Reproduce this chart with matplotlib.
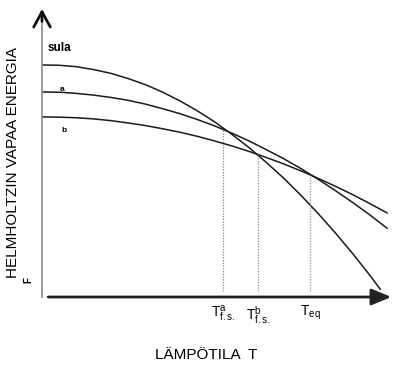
import numpy as np
import matplotlib
matplotlib.use("Agg")
import matplotlib.pyplot as plt

plt.rcParams['font.family'] = ['Liberation Sans', 'DejaVu Sans']
plt.rcParams['mathtext.fontset'] = 'custom'
plt.rcParams['mathtext.rm'] = 'Liberation Sans'
plt.rcParams['mathtext.it'] = 'Liberation Sans'
plt.rcParams['mathtext.bf'] = 'Liberation Sans:bold'

# temperature grid (arbitrary units) and free energy of each phase
T_sula = [0, 5, 10, 15, 20, 25, 30, 35, 40, 45, 50, 55, 60, 65, 70, 75,
          80, 85, 90, 95, 98]
F_sula = [80.0, 79.9, 79.4, 78.4, 77.1, 75.3, 73.2, 70.6, 67.6, 64.2, 60.4,
          56.1, 51.5, 46.4, 41.0, 35.1, 28.8, 22.1, 15.0, 7.5, 2.7]

T_ab = [0, 5, 10, 15, 20, 25, 30, 35, 40, 45, 50, 55, 60, 65, 70, 75, 80,
        85, 90, 95, 100]
F_a = [70.7, 70.6, 70.2, 69.6, 68.8, 67.8, 66.5, 64.9, 63.2, 61.2, 59.0,
       56.5, 53.8, 50.8, 47.7, 44.3, 40.6, 36.7, 32.6, 28.3, 23.7]
F_b = [62.1, 62.0, 61.8, 61.4, 60.8, 60.0, 59.1, 58.0, 56.8, 55.4, 53.8,
       52.1, 50.2, 48.1, 45.9, 43.5, 40.9, 38.2, 35.3, 32.2, 29.0]

# transition temperatures and where the dotted guides end
T_marks = [52.5, 62.6, 77.7]
F_marks = [57.7, 49.1, 42.1]
mark_labels = [r'$\mathrm{T}^{a}_{f.s.}$', r'$\mathrm{T}^{b}_{f.s.}$', r'$\mathrm{T}_{eq}$']

fig = plt.figure(figsize=(3.94, 3.67), dpi=100)
ax = fig.add_axes([42 / 394, 70 / 367, 352 / 394, 297 / 367])
ax.set_xlim(0, 102.0)
ax.set_ylim(0, 102.4)
for s in ax.spines.values():
    s.set_visible(False)
ax.set_yticks([])

line_kw = dict(color='#1a1a1a', lw=1.1)
ax.plot(T_sula, F_sula, **line_kw)
ax.plot(T_ab, F_a, **line_kw)
ax.plot(T_ab, F_b, **line_kw)

for t, f in zip(T_marks, F_marks):
    ax.plot([t, t], [2, f], color='#888888', lw=0.9, ls=(0, (1, 1.2)))

ax.set_xticks(T_marks)
ax.set_xticklabels(mark_labels, fontsize=10)
ax.tick_params(axis='x', length=0, pad=5)

# axes with arrows
ax.plot([0, 0], [0, 97], color='#8a8a8a', lw=1.2, clip_on=False)
ax.annotate('', xy=(0, 100.3), xytext=(0, 94),
            arrowprops=dict(arrowstyle='->,head_length=1.1,head_width=0.6',
                            color='#111111', lw=2.0),
            annotation_clip=False)
ax.annotate('', xy=(102.0, 0), xytext=(1, 0),
            arrowprops=dict(arrowstyle='-|>,head_length=1.2,head_width=0.5',
                            color='#222222', lw=2.0),
            annotation_clip=False)

ax.text(1.5, 86, 'sula', fontsize=8.5, fontweight='bold', va='center')
ax.text(5, 71.5, 'a', fontsize=6, fontweight='bold', va='center')
ax.text(5.5, 57.5, 'b', fontsize=6, fontweight='bold', va='center')
ax.text(-4, 6, 'F', fontsize=7, fontweight='bold', rotation=90,
        ha='center', va='center')

fig.text(13 / 394, 1 - 162 / 367, 'HELMHOLTZIN VAPAA ENERGIA', rotation=90,
         fontsize=11, ha='center', va='center')
fig.text(206 / 394, 1 - 355 / 367, 'LÄMPÖTILA  T', fontsize=11,
         ha='center', va='center')

fig.savefig('out.png', dpi=100)
